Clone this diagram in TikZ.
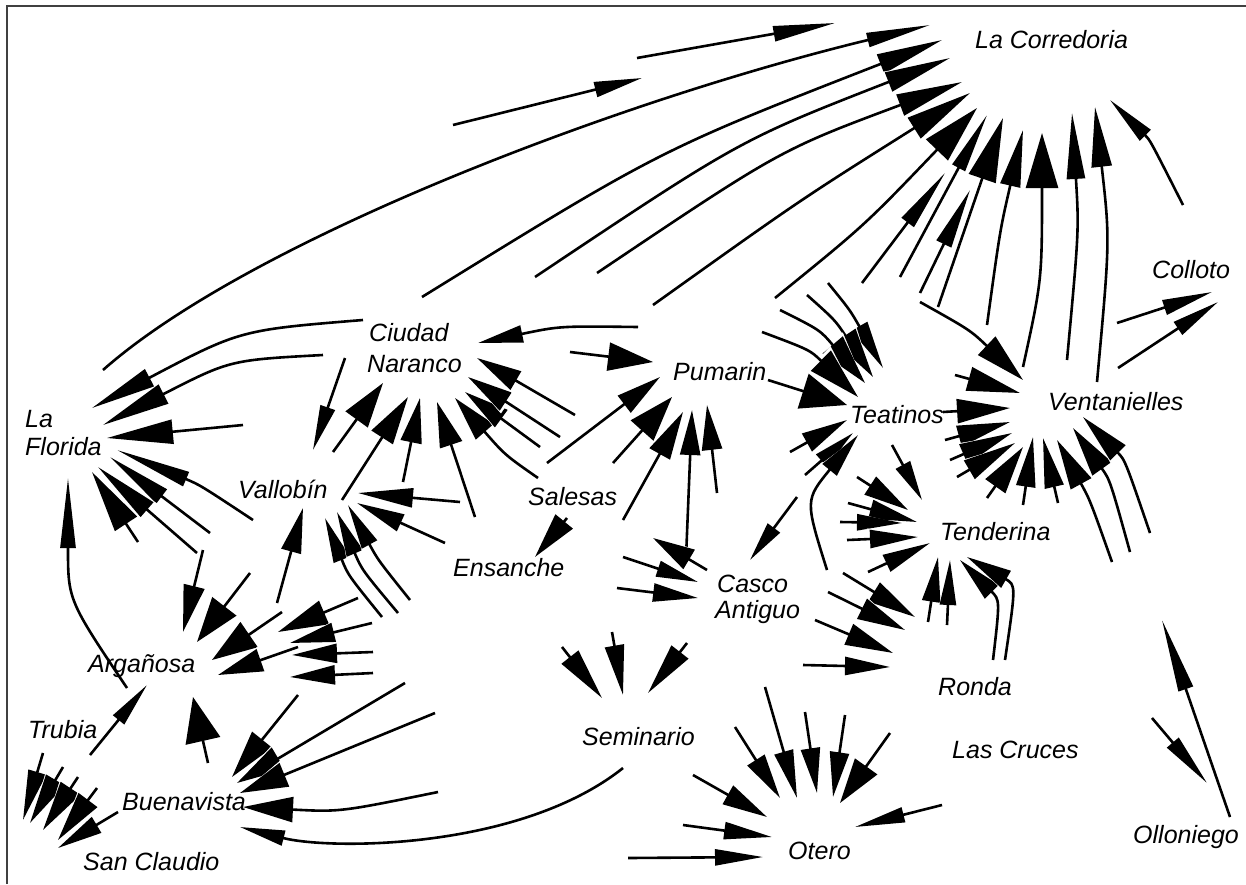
\documentclass[tikz,border=0pt]{standalone}
\usepackage{fontspec}
\setmainfont{Liberation Sans}
\usetikzlibrary{arrows.meta}
\begin{document}
\begin{tikzpicture}[x=1pt,y=-1pt,
  flow/.style={line width=2.6pt},
  ah/.style 2 args={flow,
    preaction={draw=white,-{Triangle[length=#1pt,width=#2pt,scale length=1.08,scale width=1.3]}},
    -{Triangle[length=#1pt,width=#2pt]}},
  lab/.style={font=\fontsize{25}{30}\selectfont\itshape, inner sep=0pt, anchor=base west}]
\useasboundingbox (0,0) rectangle (1246,884);
\draw[line width=1.4pt, black!75] (7,884) -- (7,6) -- (1246,6);

% ---------- La Corredoria ----------
\draw[ah={48}{15}] (453,125) -- (642,78);
\draw[ah={62}{15}] (637,58) -- (835,23);
\draw[ah={64}{14}] (103,370) .. controls (250,240) and (620,100) .. (930,25);
\draw[ah={66}{20}] (422,297) .. controls (660,150) .. (942,40);
\draw[ah={66}{20}] (535,277) .. controls (740,140) .. (950,58);
\draw[ah={66}{22}] (597,273) .. controls (780,150) .. (962,82);
\draw[ah={66}{24}] (653,305) .. controls (800,200) .. (970,93);
\draw[ah={58}{30}] (775,298) .. controls (865,225) .. (977,108);
\draw[ah={60}{14}] (900,277) -- (987,115);
\draw[ah={62}{15}] (862,283) -- (945,173);
\draw[ah={60}{16}] (920,293) -- (970,190);
\draw[ah={64}{28}] (938,307) -- (1003,118);
\draw[ah={57}{20}] (987,325) .. controls (1000,230) .. (1023,130);
\draw[ah={55}{32}] (1023,367) .. controls (1042,280) .. (1042,133);
\draw[ah={66}{18}] (1067,360) .. controls (1079,230) .. (1072,113);
\draw[ah={60}{20}] (1097,382) .. controls (1110,240) .. (1095,107);
\draw[ah={50}{15}] (1183,205) .. controls (1150,140) .. (1110,100);

% ---------- Colloto ----------
\draw[ah={50}{15}] (1117,323) -- (1212,292);
\draw[ah={48}{15}] (1118,368) -- (1218,302);

% ---------- Teatinos ----------
\draw[ah={48}{18}] (828,283) .. controls (850,310) .. (883,368);
\draw[ah={50}{24}] (807,295) .. controls (835,320) .. (873,377);
\draw[ah={50}{26}] (780,310) .. controls (820,330) .. (865,383);
\draw[ah={52}{28}] (762,332) .. controls (810,350) .. (858,397);
\draw[ah={46}{36}] (768,380) -- (847,405);
\draw[ah={46}{20}] (790,452) -- (847,420);
\draw[ah={42}{16}] (805,475) -- (853,433);
\draw[ah={45}{18}] (827,570) .. controls (805,500) .. (858,435);
\draw[ah={40}{16}] (892,445) -- (922,500);
\draw[ah={40}{15}] (797,497) -- (750,560);

% ---------- Ventanielles ----------
\draw[ah={50}{25}] (920,302) .. controls (970,330) .. (1023,380);
\draw[ah={53}{24}] (955,375) -- (1020,393);
\draw[ah={53}{24}] (943,412) -- (1010,408);
\draw[ah={53}{21}] (945,440) -- (1010,422);
\draw[ah={53}{21}] (950,460) -- (1012,433);
\draw[ah={53}{21}] (957,477) -- (1015,443);
\draw[ah={48}{24}] (987,498) -- (1023,447);
\draw[ah={50}{19}] (1023,505) -- (1033,437);
\draw[ah={50}{19}] (1058,503) -- (1043,438);
\draw[ah={50}{23}] (1112,562) .. controls (1090,500) .. (1057,440);
\draw[ah={50}{23}] (1130,552) .. controls (1110,480) .. (1073,428);
\draw[ah={50}{21}] (1150,533) .. controls (1125,460) .. (1083,417);

% ---------- Tenderina ----------
\draw[ah={45}{21}] (857,477) -- (908,510);
\draw[ah={48}{19}] (848,503) -- (917,522);
\draw[ah={45}{16}] (840,522) -- (902,523);
\draw[ah={48}{18}] (847,540) -- (918,537);
\draw[ah={48}{18}] (868,572) -- (930,543);
\draw[ah={45}{18}] (928,622) -- (938,557);
\draw[ah={45}{16}] (947,625) -- (950,560);
\draw[ah={45}{19}] (993,660) .. controls (1000,600) .. (960,560);
\draw[ah={45}{19}] (1005,660) .. controls (1016,585) .. (967,557);

% ---------- Casco Antiguo ----------
\draw[ah={45}{20}] (686,558) -- (692,410);
\draw[ah={42}{22}] (707,570) -- (653,538);
\draw[ah={42}{16}] (623,557) -- (698,582);
\draw[ah={45}{18}] (617,588) -- (698,598);
\draw[ah={48}{22}] (843,573) -- (915,617);
\draw[ah={48}{22}] (828,592) -- (905,630);
\draw[ah={48}{22}] (815,620) -- (893,653);
\draw[ah={45}{18}] (803,665) -- (890,667);

% ---------- Seminario ----------
\draw[ah={52}{21}] (562,647) -- (602,698);
\draw[ah={50}{19}] (612,632) -- (623,695);
\draw[ah={52}{21}] (687,643) -- (648,693);
\draw[ah={45}{15}] (623,768) .. controls (520,850) and (330,850) .. (240,827);

% ---------- Otero ----------
\draw[ah={48}{16}] (628,858) -- (763,857);
\draw[ah={48}{17}] (683,825) -- (772,837);
\draw[ah={45}{21}] (693,775) -- (767,817);
\draw[ah={45}{20}] (735,727) -- (780,798);
\draw[ah={48}{19}] (765,687) -- (797,798);
\draw[ah={45}{19}] (805,712) -- (817,793);
\draw[ah={45}{19}] (845,715) -- (833,797);
\draw[ah={45}{27}] (890,733) -- (840,803);
\draw[ah={50}{15}] (942,805) -- (855,827);

% ---------- Olloniego ----------
\draw[ah={73}{15}] (1230,817) -- (1162,620);
\draw[ah={53}{15}] (1152,718) -- (1207,783);

% ---------- Pumarin ----------
\draw[ah={45}{28}] (570,352) -- (653,362);
\draw[ah={45}{17}] (638,327) .. controls (560,326) .. (478,343);
\draw[ah={45}{21}] (547,463) -- (660,377);
\draw[ah={45}{30}] (613,463) -- (672,397);
\draw[ah={48}{23}] (623,520) -- (683,412);
\draw[ah={45}{20}] (717,493) -- (707,405);

% ---------- Salesas ----------
\draw[ah={46}{22}] (567,518) -- (535,557);

% ---------- Ciudad Naranco ----------
\draw[ah={45}{27}] (333,452) -- (383,383);
\draw[ah={48}{25}] (342,500) -- (408,397);
\draw[ah={45}{21}] (403,482) -- (420,398);
\draw[ah={45}{23}] (475,517) -- (437,402);
\draw[ah={45}{23}] (538,478) .. controls (505,455) .. (455,398);
\draw[ah={45}{21}] (540,447) -- (465,392);
\draw[ah={45}{21}] (560,437) -- (468,377);
\draw[ah={45}{21}] (575,415) -- (477,358);
\draw[ah={45}{15}] (345,358) -- (313,450);

% ---------- Vallobin ----------
\draw[ah={55}{19}] (460,502) -- (358,493);
\draw[ah={48}{18}] (445,543) -- (357,503);
\draw[ah={45}{17}] (382,617) .. controls (348,575) .. (325,518);
\draw[ah={45}{17}] (398,613) .. controls (362,570) .. (337,512);
\draw[ah={45}{17}] (410,600) .. controls (378,560) .. (348,505);
\draw[ah={45}{20}] (277,603) -- (303,508);

% ---------- La Florida ----------
\draw[ah={65}{19}] (363,320) .. controls (240,330) .. (92,408);
\draw[ah={68}{21}] (323,355) .. controls (230,360) .. (103,425);
\draw[ah={66}{24}] (243,425) -- (107,438);
\draw[ah={75}{15}] (253,520) .. controls (200,485) .. (117,450);
\draw[ah={65}{17}] (210,533) -- (110,457);
\draw[ah={65}{19}] (197,553) -- (98,467);
\draw[ah={62}{26}] (138,542) -- (92,472);
\draw[ah={70}{15}] (127,688) .. controls (68,600) .. (68,478);

% ---------- Arganosa ----------
\draw[ah={47}{21}] (203,550) -- (183,632);
\draw[ah={45}{30}] (250,573) -- (197,642);
\draw[ah={45}{30}] (282,612) -- (212,660);
\draw[ah={45}{23}] (298,647) -- (218,675);
\draw[ah={50}{25}] (358,598) -- (278,632);
\draw[ah={45}{19}] (372,623) -- (290,643);
\draw[ah={45}{19}] (373,652) -- (292,655);
\draw[ah={45}{19}] (373,673) -- (290,677);
\draw[ah={45}{35}] (208,763) -- (193,697);
\draw[ah={45}{14}] (90,755) -- (147,685);

% ---------- San Claudio ----------
\draw[ah={50}{18}] (43,753) -- (23,820);
\draw[ah={50}{21}] (63,767) -- (30,823);
\draw[ah={50}{23}] (78,777) -- (43,830);
\draw[ah={50}{23}] (97,788) -- (58,840);
\draw[ah={45}{18}] (118,812) -- (58,848);

% ---------- Buenavista ----------
\draw[ah={48}{25}] (298,695) -- (232,777);
\draw[ah={48}{25}] (405,683) -- (237,783);
\draw[ah={48}{25}] (435,713) -- (240,793);
\draw[ah={50}{25}] (438,792) .. controls (340,812) .. (243,807);

% ---------- labels ----------
\node[lab] (corr) at (975,48) {La Corredoria};
\node[lab] (coll) at (1152,278) {Colloto};
\node[lab] (cn1) at (369,341) {Ciudad};
\node[lab] (cn2) at (367,372) {Naranco};
\node[lab] (fl1) at (25,427) {La};
\node[lab] (fl2) at (25,455) {Florida};
\node[lab] (pum) at (673,380) {Pumarin};
\node[lab] (val) at (238,498) {Vallobín};
\node[lab] (sal) at (528,505) {Salesas};
\node[lab] (ens) at (453,576) {Ensanche};
\node[lab] (tea) at (850,423) {Teatinos};
\node[lab] (ven) at (1048,410) {Ventanielles};
\node[lab] (ten) at (940,540) {Tenderina};
\node[lab] (cas1) at (717,592) {Casco};
\node[lab] (cas2) at (715,618) {Antiguo};
\node[lab] (sem) at (582,745) {Seminario};
\node[lab] (ron) at (938,695) {Ronda};
\node[lab] (cru) at (952,758) {Las Cruces};
\node[lab] (ote) at (788,859) {Otero};
\node[lab] (oll) at (1133,843) {Olloniego};
\node[lab] (arg) at (88,672) {Argañosa};
\node[lab] (tru) at (28,738) {Trubia};
\node[lab] (bue) at (122,810) {Buenavista};
\node[lab] (scl) at (83,870) {San Claudio};
\end{tikzpicture}
\end{document}
